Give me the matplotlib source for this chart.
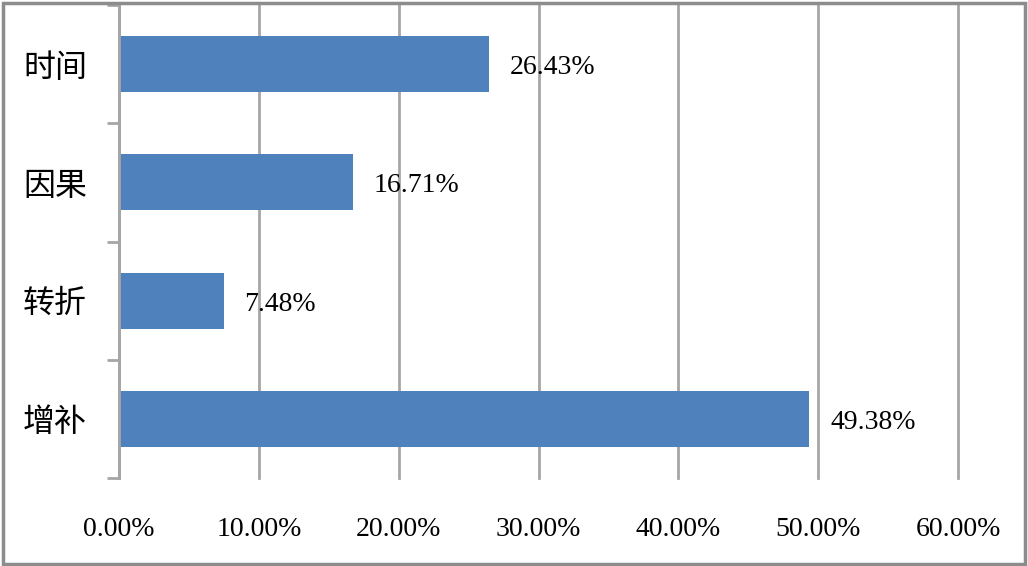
import numpy as np
import matplotlib.pyplot as plt
from matplotlib.patches import Rectangle

categories = ["增补", "转折", "因果", "时间"]
values = [49.38, 7.48, 16.71, 26.43]
xticks = [0, 10, 20, 30, 40, 50, 60]

plt.rcParams['font.family'] = ['Liberation Serif', 'Noto Sans CJK SC']

fig = plt.figure(figsize=(10.28, 5.66), dpi=100)
ax = fig.add_axes([119 / 1028, 1 - 478 / 566, (958 - 119) / 1028, (478 - 5) / 566])

y = np.arange(len(categories))
ax.barh(y, values, height=0.475, color="#4F81BD", zorder=2)

for yi, v in zip(y, values):
    ax.text(v + 1.5, yi - 0.03, f"{v:.2f}%", va="center", ha="left", fontsize=20)

ax.set_xlim(0, 60)
ax.set_ylim(-0.5, len(categories) - 0.5)
ax.set_xticks(xticks)
ax.set_xticklabels([f"{t:.2f}%" for t in xticks], fontsize=20)
ax.set_yticks(y)
ax.set_yticklabels(categories, fontsize=23, family=['Noto Sans CJK SC'])
ax.set_yticks(np.arange(-0.5, len(categories), 1), minor=True)

ax.tick_params(axis="x", length=0, pad=28)
ax.tick_params(axis="y", which="major", length=0, pad=23)
ax.tick_params(axis="y", which="minor", length=9, width=2, color="#A6A6A6", direction="out")

ax.grid(axis="x", color="#A6A6A6", linewidth=2, zorder=0)
for gl in ax.get_xgridlines():
    gl.set_clip_on(False)
ax.set_axisbelow(True)
for s in ["top", "right", "bottom"]:
    ax.spines[s].set_visible(False)
ax.spines["left"].set_color("#A6A6A6")
ax.spines["left"].set_linewidth(2)

fig.patches.append(Rectangle((0.003, 0.004), 0.994, 0.99, transform=fig.transFigure,
                             fill=False, edgecolor="#8C8C8C", linewidth=2.5))

fig.savefig("out.png", dpi=100)
